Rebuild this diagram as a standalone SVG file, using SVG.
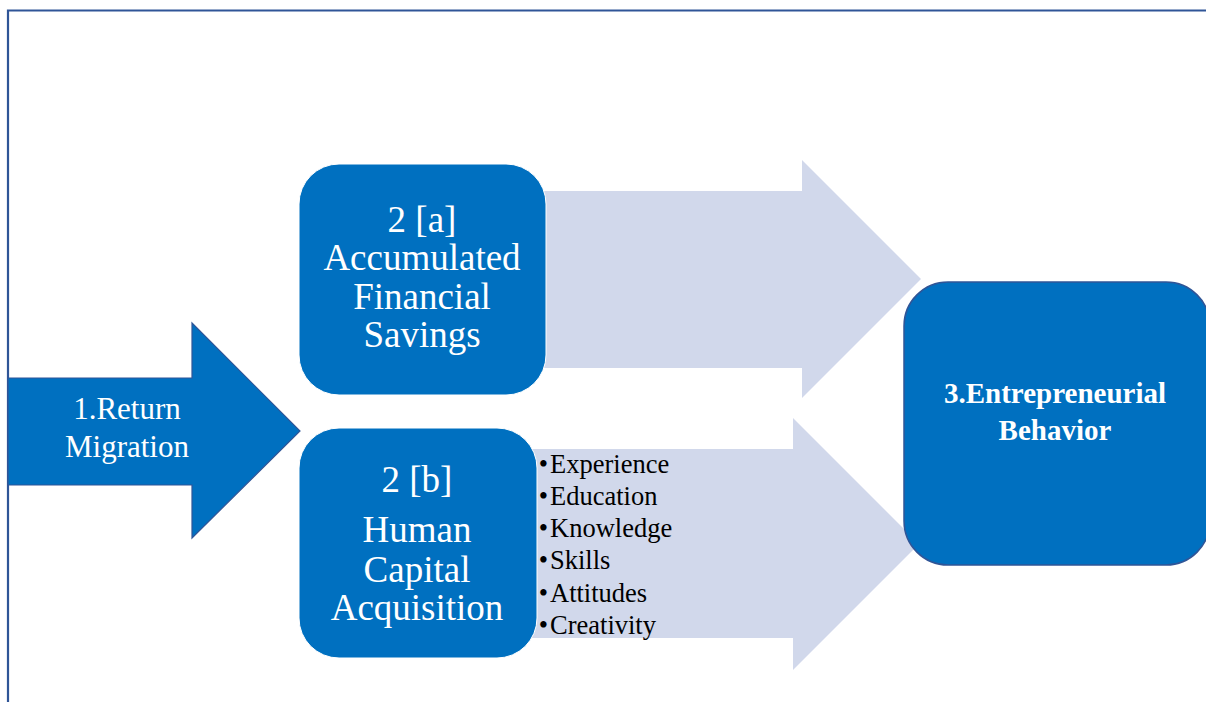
<svg xmlns="http://www.w3.org/2000/svg" width="1206" height="702" viewBox="0 0 1206 702">
  <style>
    .frame { fill: none; stroke: #2F5597; stroke-width: 2.2; }
    .flow { fill: #D1D8EB; stroke: none; }
    .box { fill: #0070C0; }
    .main-arrow { fill: #0070C0; stroke: #2F5597; stroke-width: 1.2; }
    .edged { stroke: #2F5597; stroke-width: 1.5; }
    .lbl { font-family: "Liberation Serif", "Times New Roman", serif; fill: #FFFFFF; text-anchor: middle; }
    .big { font-size: 37px; }
    .mid { font-size: 31px; }
    .bold { font-size: 29px; font-weight: bold; }
    .item { font-family: "Liberation Serif", "Times New Roman", serif; font-size: 26.5px; fill: #000000; }
    .dot { font-family: "Liberation Serif", "Times New Roman", serif; font-size: 26.5px; fill: #000000; text-anchor: middle; }
  </style>

  <rect width="1206" height="702" fill="#FFFFFF"/>

  <!-- page frame: top and left rules -->
  <path class="frame" d="M8 702 V10.5 H1206"/>

  <!-- connectors: wide block arrows leading into the outcome -->
  <g id="connectors">
    <polygon class="flow" points="540,191 802,191 802,160 921,279 802,398 802,368 540,368"/>
    <polygon class="flow" points="530,449 793,449 793,418 919,544 793,670 793,638 530,638"/>
  </g>

  <g id="node-return-migration">
    <polygon class="main-arrow" points="8,378 192,378 192,323 300,431 192,538 192,485 8,485"/>
    <text class="lbl mid" x="127" y="419">1.Return</text>
    <text class="lbl mid" x="127" y="457">Migration</text>
  </g>

  <g id="node-financial-savings">
    <rect class="box" x="299" y="164" width="247" height="231" rx="40" ry="40" stroke="#FFFFFF" stroke-width="1"/>
    <text class="lbl big" x="422" y="232">2 [a]</text>
    <text class="lbl big" x="422" y="270">Accumulated</text>
    <text class="lbl big" x="422" y="309">Financial</text>
    <text class="lbl big" x="422" y="347">Savings</text>
  </g>

  <g id="node-human-capital">
    <rect class="box" x="299" y="428" width="238" height="230" rx="40" ry="40" stroke="#FFFFFF" stroke-width="1"/>
    <text class="lbl big" x="417" y="492">2 [b]</text>
    <text class="lbl big" x="417" y="542">Human</text>
    <text class="lbl big" x="417" y="582">Capital</text>
    <text class="lbl big" x="417" y="620">Acquisition</text>
  </g>

  <g id="human-capital-items">
    <text class="dot" x="543.5" y="473">•</text>
    <text class="item" x="550" y="473">Experience</text>
    <text class="dot" x="543.5" y="505">•</text>
    <text class="item" x="550" y="505">Education</text>
    <text class="dot" x="543.5" y="537">•</text>
    <text class="item" x="550" y="537">Knowledge</text>
    <text class="dot" x="543.5" y="569">•</text>
    <text class="item" x="550" y="569">Skills</text>
    <text class="dot" x="543.5" y="602">•</text>
    <text class="item" x="550" y="602">Attitudes</text>
    <text class="dot" x="543.5" y="634">•</text>
    <text class="item" x="550" y="634">Creativity</text>
  </g>

  <g id="node-entrepreneurial-behavior">
    <rect class="box edged" x="904" y="282" width="306" height="283" rx="44" ry="44"/>
    <text class="lbl bold" x="1055" y="403">3.Entrepreneurial</text>
    <text class="lbl bold" x="1055" y="440">Behavior</text>
  </g>
</svg>
